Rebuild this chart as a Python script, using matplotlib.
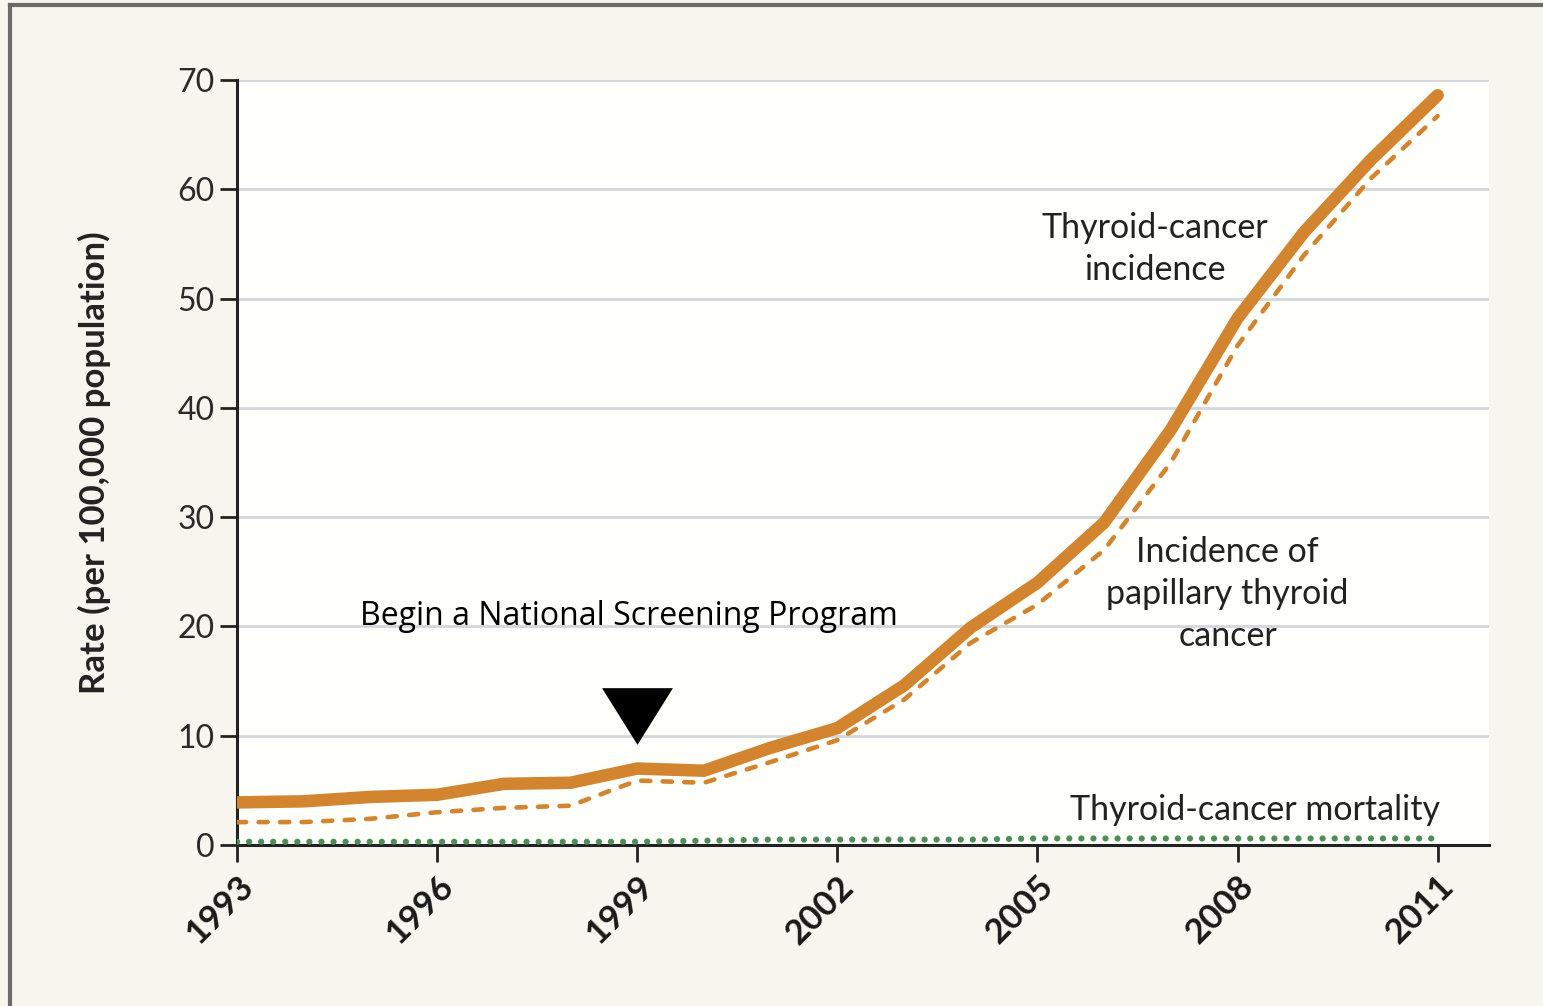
import numpy as np
import matplotlib.pyplot as plt
from matplotlib.lines import Line2D

years = list(range(1993, 2012))
incidence = [3.9, 4.0, 4.4, 4.6, 5.6, 5.7, 7.0, 6.8, 8.9, 10.7,
             14.6, 19.9, 24.0, 29.5, 38.0, 48.2, 56.1, 62.7, 68.6]
papillary = [2.1, 2.1, 2.4, 3.0, 3.4, 3.6, 5.9, 5.7, 7.6, 9.6,
             13.3, 18.5, 22.0, 27.0, 35.0, 45.7, 54.0, 61.0, 66.7]
mortality = [0.3, 0.3, 0.3, 0.3, 0.3, 0.3, 0.3, 0.4, 0.5, 0.5,
             0.5, 0.5, 0.6, 0.6, 0.6, 0.6, 0.6, 0.6, 0.6]
xticks = [1993, 1996, 1999, 2002, 2005, 2008, 2011]
yticks = [0, 10, 20, 30, 40, 50, 60, 70]
screening_year = 1999
marker_level = 11.8

orange = '#d2842f'
green = '#4e8c5a'
cream = '#f7f6ee'
plot_bg = '#fefefb'

fig = plt.figure(figsize=(15.43, 10.06), dpi=100, facecolor=cream)
ax = fig.add_axes([0.1536, 0.16, 0.965 - 0.1536, 0.9205 - 0.16])
ax.set_facecolor(plot_bg)

# frame around the whole figure
fig.add_artist(Line2D([0.0062, 0.0062], [0.0, 0.995], transform=fig.transFigure,
                      color='#6b6b6b', lw=3))
fig.add_artist(Line2D([0.0062, 1.0], [0.995, 0.995], transform=fig.transFigure,
                      color='#6b6b6b', lw=3))

ax.plot(years, incidence, color=orange, lw=9, solid_capstyle='round',
        solid_joinstyle='round', zorder=4)
ax.plot(years, papillary, color=orange, lw=3.3, dashes=(2.0, 2.7),
        dash_capstyle='round', zorder=4)
ax.plot(years, mortality, color=green, lw=4.5, linestyle=(0, (0.01, 1.92)),
        dash_capstyle='round', zorder=4)

# downward triangle marking the start of screening
tri = [(-1, 0.8), (1, 0.8), (0, -0.8), (-1, 0.8)]
ax.plot([screening_year], [marker_level], marker=tri, markersize=51,
        color='black', markeredgewidth=0, zorder=5, clip_on=False)

ax.set_xlim(1993, 2011.77)
ax.set_ylim(0, 70)
ax.set_xticks(xticks)
ax.set_yticks(yticks)
ax.set_xticklabels([str(x) for x in xticks], rotation=45, ha='right',
                   rotation_mode='anchor', fontsize=25, fontweight='bold',
                   family='Lato', color='#1a1a1a')
ax.set_yticklabels([str(y) for y in yticks], fontsize=23, family='Lato',
                   color='#2a2a2a')

ax.grid(axis='y', color='#d5d6dc', lw=2)
ax.set_axisbelow(True)
for s in ['top', 'right']:
    ax.spines[s].set_visible(False)
for s in ['left', 'bottom']:
    ax.spines[s].set_color('#222222')
    ax.spines[s].set_linewidth(2.2)
ax.tick_params(axis='y', length=12, width=2, pad=4, color='#222222')
ax.tick_params(axis='x', length=12, width=2, pad=6, color='#222222')

ax.set_ylabel('Rate (per 100,000 population)', fontsize=25, fontweight='bold',
              family='Lato', color='#222222', labelpad=48)

ax.text(1998.88, 20.95, 'Begin a National Screening Program', fontsize=23,
        family='Open Sans', ha='center', va='center', color='black')
ax.text(2006.76, 54.5, 'Thyroid-cancer\nincidence', fontsize=24.5,
        family='Lato', ha='center', va='center', color='#222222',
        linespacing=1.38)
ax.text(2007.85, 23.0, 'Incidence of\npapillary thyroid\ncancer', fontsize=24.5,
        family='Lato', ha='center', va='center', color='#222222',
        linespacing=1.38)
ax.text(2008.26, 3.2, 'Thyroid-cancer mortality', fontsize=24.5,
        family='Lato', ha='center', va='center', color='#222222')

fig.savefig('out.png', dpi=100, facecolor=cream)
